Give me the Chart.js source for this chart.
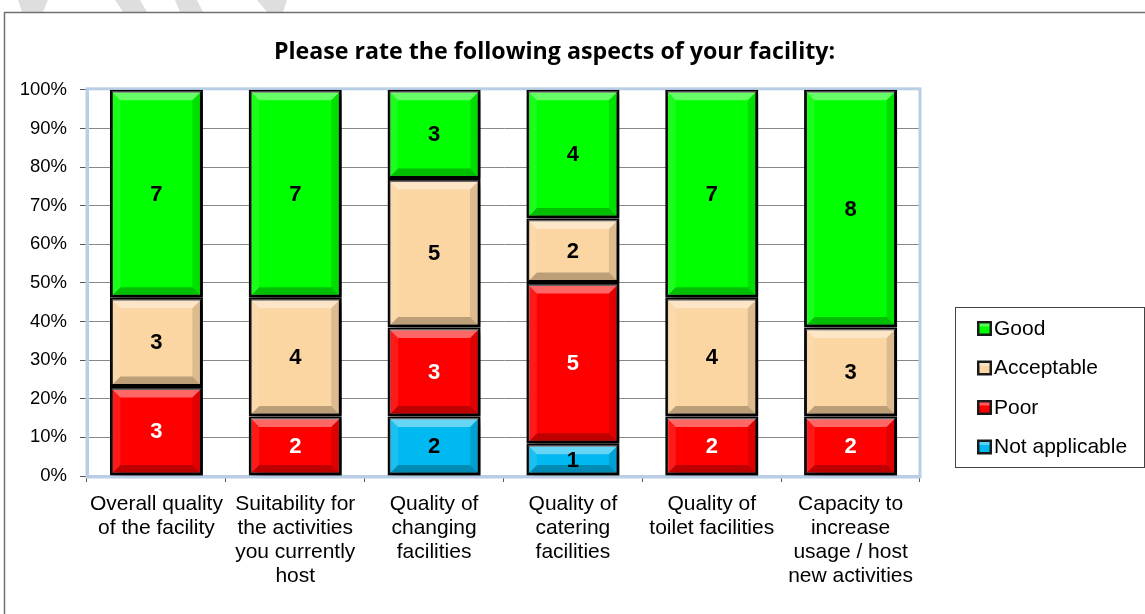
<!DOCTYPE html>
<html lang="en">
<head>
    <meta charset="UTF-8">
    <title>Facility ratings</title>
    <style>
        html, body { margin: 0; padding: 0; background: #fff; }
        #wrap { width: 1145px; height: 614px; }
    </style>
</head>
<body>
    <div id="wrap">
        <canvas id="ratingChart"></canvas>
    </div>

    <script src="https://cdn.jsdelivr.net/npm/chart.js"></script>

    <script>
        const categories = [
            ['Overall quality', 'of the facility'],
            ['Suitability for', 'the activities', 'you currently', 'host'],
            ['Quality of', 'changing', 'facilities'],
            ['Quality of', 'catering', 'facilities'],
            ['Quality of', 'toilet facilities'],
            ['Capacity to', 'increase', 'usage / host', 'new activities']
        ];
        // number of responses per rating
        const notApplicable = [0, 0, 2, 1, 0, 0];
        const poor          = [3, 2, 3, 5, 2, 2];
        const acceptable    = [3, 4, 5, 2, 4, 3];
        const good          = [7, 7, 3, 4, 7, 8];
        const yTicks = [0, 10, 20, 30, 40, 50, 60, 70, 80, 90, 100];

        const totals = categories.map((c, i) => notApplicable[i] + poor[i] + acceptable[i] + good[i]);
        const share = arr => arr.map((v, i) => v / totals[i] * 100);

        const series = [
            { label: 'Not applicable', counts: notApplicable, color: '#00b9f1', text: '#000' },
            { label: 'Poor',           counts: poor,          color: '#ff0000', text: '#fff' },
            { label: 'Acceptable',     counts: acceptable,    color: '#fbd5a2', text: '#000' },
            { label: 'Good',           counts: good,          color: '#00ff00', text: '#000' }
        ];

        const FONT = '"Liberation Sans", Arial, sans-serif';

        // page background, watermark bands and the outer chart frame
        const framePlugin = {
            id: 'frame',
            beforeDraw(chart) {
                const c = chart.ctx;
                c.save();
                c.fillStyle = '#fff';
                c.fillRect(0, 0, chart.width, chart.height);
                c.fillStyle = '#dedede';
                const bands = [
                    [[18, 0], [48, 0], [43, 12], [22, 12]],
                    [[115, 0], [140, 0], [147, 12], [123, 12]],
                    [[175, 0], [197, 0], [203, 12], [180, 12]],
                    [[257, 0], [287, 0], [283, 12], [267, 12]]
                ];
                bands.forEach(b => {
                    c.beginPath();
                    b.forEach((p, i) => i ? c.lineTo(p[0], p[1]) : c.moveTo(p[0], p[1]));
                    c.closePath();
                    c.fill();
                });
                c.strokeStyle = '#707070';
                c.lineWidth = 1.5;
                c.strokeRect(4.5, 12.5, 1200, 700);
                c.restore();
            },
            afterLayout(chart) {
                // centre the title across the chart frame, not just the plot
                if (chart.titleBlock) {
                    chart.titleBlock.left = 0;
                    chart.titleBlock.right = 1109;
                    chart.titleBlock.width = 1109;
                }
            }
        };

        // light blue plot border + soft shadow behind the bars
        const plotPlugin = {
            id: 'plot',
            beforeDatasetsDraw(chart) {
                const c = chart.ctx, a = chart.chartArea;
                c.save();
                c.strokeStyle = '#b9cde5';
                c.lineWidth = 3;
                c.strokeRect(a.left, a.top - 1, a.right - a.left, a.bottom - a.top + 2);
                c.restore();
                c.save();
                c.shadowColor = 'rgba(0,0,0,0.7)';
                c.shadowOffsetX = 6;
                c.shadowOffsetY = 3;
                c.shadowBlur = 10;
            },
            afterDatasetsDraw(chart) {
                const c = chart.ctx;
                c.restore();
                // bevel on each segment
                chart.data.datasets.forEach((ds, di) => {
                    chart.getDatasetMeta(di).data.forEach(el => {
                        const top = Math.min(el.y, el.base), bot = Math.max(el.y, el.base);
                        const h = bot - top;
                        if (h < 2) return;
                        const l = el.x - el.width / 2 + 1.5, r = el.x + el.width / 2 - 1.5;
                        const t = top + 1.5, b = bot - 1.5;
                        const k = Math.min(9, (b - t) / 3);
                        const quad = (pts, col) => {
                            c.beginPath();
                            pts.forEach((p, i) => i ? c.lineTo(p[0], p[1]) : c.moveTo(p[0], p[1]));
                            c.closePath();
                            c.fillStyle = col;
                            c.fill();
                        };
                        c.save();
                        quad([[l, t], [r, t], [r - k, t + k], [l + k, t + k]], 'rgba(255,255,255,0.4)');
                        quad([[l, b], [r, b], [r - k, b - k], [l + k, b - k]], 'rgba(0,0,0,0.25)');
                        quad([[l, t], [l + k, t + k], [l + k, b - k], [l, b]], 'rgba(255,255,255,0.1)');
                        quad([[r, t], [r - k, t + k], [r - k, b - k], [r, b]], 'rgba(0,0,0,0.12)');
                        c.restore();
                    });
                });
                // count labels
                c.save();
                c.font = 'bold 22px ' + FONT;
                c.textAlign = 'center';
                c.textBaseline = 'middle';
                chart.data.datasets.forEach((ds, di) => {
                    chart.getDatasetMeta(di).data.forEach((el, i) => {
                        const n = series[di].counts[i];
                        if (!n) return;
                        c.fillStyle = series[di].text;
                        c.fillText(String(n), el.x, (el.y + el.base) / 2 + 1);
                    });
                });
                c.restore();
            },
            afterDraw(chart) {
                // legend box on the right, top entry = last series
                const c = chart.ctx;
                c.save();
                c.strokeStyle = '#444';
                c.lineWidth = 1;
                c.strokeRect(955.5, 307.5, 189, 160);
                c.font = '21px ' + FONT;
                c.textBaseline = 'middle';
                const items = chart.data.datasets.slice().reverse();
                items.forEach((ds, i) => {
                    const y = 328 + i * 39.5;
                    c.fillStyle = '#1a1a1a';
                    c.fillRect(977, y - 7, 15, 15);
                    c.fillStyle = ds.backgroundColor;
                    c.fillRect(979.5, y - 4.5, 10, 10);
                    c.fillStyle = 'rgba(255,255,255,0.35)';
                    c.fillRect(979.5, y - 4.5, 10, 3);
                    c.fillStyle = '#000';
                    c.fillText(ds.label, 994, y + 1);
                });
                c.restore();
            }
        };

        const ctx = document.getElementById('ratingChart');

        new Chart(ctx, {
            type: 'bar',
            data: {
                labels: categories,
                datasets: series.map(s => ({
                    label: s.label,
                    data: share(s.counts),
                    backgroundColor: s.color,
                    borderColor: '#000',
                    borderWidth: 3,
                    borderSkipped: false,
                    barPercentage: 0.67,
                    categoryPercentage: 1
                }))
            },
            options: {
                responsive: true,
                maintainAspectRatio: false,
                animation: false,
                layout: { padding: { left: 0, right: 225, top: 0, bottom: 0 } },
                plugins: {
                    legend: { display: false },
                    tooltip: { enabled: false },
                    title: {
                        display: true,
                        text: 'Please rate the following aspects of your facility:',
                        color: '#000',
                        font: { family: '"Open Sans", Lato, sans-serif', size: 23.2, weight: 'bold' },
                        padding: { top: 38, bottom: 24 }
                    }
                },
                scales: {
                    x: {
                        stacked: true,
                        afterFit(s) { s.height = 138; },
                        grid: {
                            offset: true,
                            drawOnChartArea: false,
                            tickLength: 6,
                            tickColor: '#555'
                        },
                        border: { color: '#b9cde5', width: 3 },
                        ticks: {
                            color: '#000',
                            padding: 10,
                            maxRotation: 0,
                            font: { family: FONT, size: 21, lineHeight: 1.143 }
                        }
                    },
                    y: {
                        stacked: true,
                        min: 0,
                        max: 100,
                        afterFit(s) { s.width = 87; },
                        afterBuildTicks(s) { s.ticks = yTicks.map(v => ({ value: v })); },
                        grid: {
                            color: '#888',
                            borderDash: [3, 2],
                            tickBorderDash: [],
                            tickColor: '#555',
                            tickLength: 7
                        },
                        border: { color: '#b9cde5', width: 3 },
                        ticks: {
                            color: '#000',
                            padding: 13,
                            font: { family: FONT, size: 18.5 },
                            callback: v => v + '%'
                        }
                    }
                }
            },
            plugins: [framePlugin, plotPlugin]
        });
    </script>
</body>
</html>
